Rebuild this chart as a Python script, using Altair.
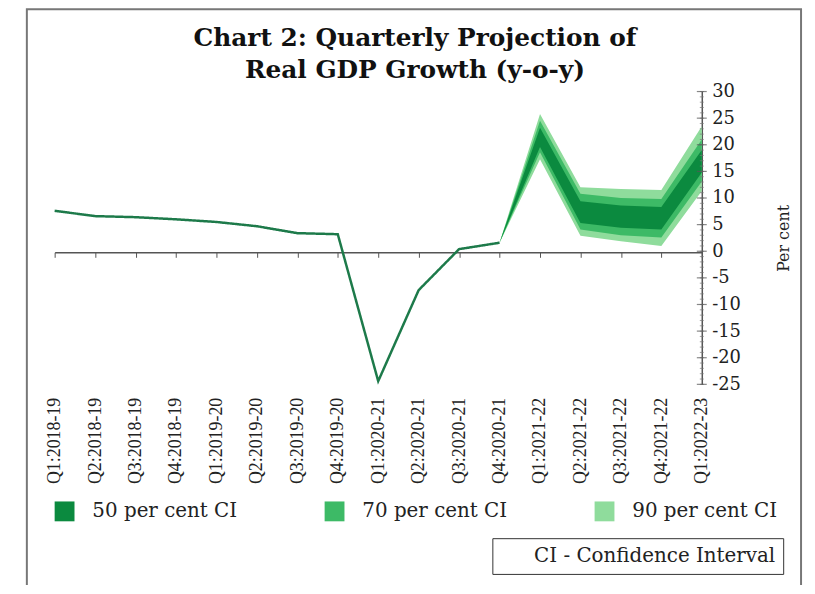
import altair as alt
import pandas as pd

# ---------------- data ----------------
quarters = [
    "Q1:2018-19", "Q2:2018-19", "Q3:2018-19", "Q4:2018-19",
    "Q1:2019-20", "Q2:2019-20", "Q3:2019-20", "Q4:2019-20",
    "Q1:2020-21", "Q2:2020-21", "Q3:2020-21", "Q4:2020-21",
    "Q1:2021-22", "Q2:2021-22", "Q3:2021-22", "Q4:2021-22",
    "Q1:2022-23",
]
actual_quarters = quarters[:12]
actual_values = [7.6, 6.6, 6.4, 6.0, 5.5, 4.7, 3.4, 3.2, -24.4, -7.3, 0.4, 1.6]

band_quarters = quarters[11:]
ci50_low = [1.6, 19.6, 5.3, 4.4, 4.1, 14.8]
ci50_high = [1.6, 23.2, 9.4, 8.6, 8.3, 19.0]
ci70_low = [1.6, 18.6, 4.1, 3.0, 2.6, 13.1]
ci70_high = [1.6, 24.5, 10.8, 10.0, 9.8, 21.0]
ci90_low = [1.6, 17.3, 2.9, 1.9, 1.0, 11.3]
ci90_high = [1.6, 25.8, 12.0, 11.7, 11.5, 23.5]

ci_labels = ["50 per cent CI", "70 per cent CI", "90 per cent CI"]
ci_colors = ["#0b8a3f", "#3dba66", "#8fdc9c"]
note_label = ["CI - Confidence Interval"]

y_major = list(range(-25, 31, 5))
y_minor = list(range(-25, 31))

# ---------------- tables ----------------
actual_df = pd.DataFrame({"quarter": actual_quarters, "value": actual_values,
                          "note": note_label * len(actual_quarters)})
rows = []
for lab, lo, hi in zip(ci_labels, [ci50_low, ci70_low, ci90_low], [ci50_high, ci70_high, ci90_high]):
    for q, l, h in zip(band_quarters, lo, hi):
        rows.append({"quarter": q, "ci": lab, "low": l, "high": h})
band_df = pd.DataFrame(rows)
major_df = pd.DataFrame({"quarter": [quarters[-1]] * len(y_major), "v": y_major})
minor_df = pd.DataFrame({"quarter": [quarters[-1]] * len(y_minor), "v": y_minor})

# ---------------- scales / axes ----------------
x_scale = alt.Scale(domain=quarters, type="point", padding=0)
x_axis = alt.Axis(orient="bottom", offset=-133, labelAngle=270, labelAlign="right",
                  labelBaseline="middle", labelPadding=141, tickSize=5,
                  domainColor="#555555", tickColor="#555555", domainWidth=1.5,
                  labelFont="Liberation Serif", labelFontSize=18, labelColor="#222222",
                  title=None, grid=False)
y_scale = alt.Scale(domain=[-25, 30], nice=False, zero=False)
y_axis = alt.Axis(orient="right", values=y_major, title="Per cent", titleAngle=270,
                  titleFont="DejaVu Serif", titleFontSize=16, titleFontWeight="normal",
                  titleColor="#222222", titleX=82, titleBaseline="middle",
                  ticks=False, tickSize=0, domainColor="#555555", domainWidth=1.5,
                  labelExpr="'' + datum.value",
                  labelFont="DejaVu Serif", labelFontSize=18, labelColor="#222222",
                  labelPadding=10, grid=False)

X = alt.X("quarter:N", scale=x_scale, axis=x_axis, sort=quarters)
color = alt.Color("ci:N", scale=alt.Scale(domain=ci_labels, range=ci_colors),
                  legend=alt.Legend(orient="none", legendX=0, legendY=413,
                                    direction="horizontal", title=None,
                                    symbolType="square", symbolSize=400,
                                    symbolStrokeWidth=0, labelFont="DejaVu Serif",
                                    labelFontSize=20, labelColor="#222222",
                                    labelOffset=18, columnPadding=88,
                                    labelLimit=400, padding=0))


def band(label):
    return (alt.Chart(band_df).transform_filter(alt.datum.ci == label)
            .mark_area(opacity=1)
            .encode(x=X, y=alt.Y("low:Q", scale=y_scale, axis=y_axis), y2="high:Q",
                    color=color))


line = alt.Chart(actual_df).mark_line(color="#1d7a4a", strokeWidth=2.5).encode(
    x=X,
    y=alt.Y("value:Q", scale=y_scale, axis=y_axis),
    strokeDash=alt.StrokeDash("note:N",
                              scale=alt.Scale(domain=note_label, range=[[1, 0]]),
                              legend=alt.Legend(orient="none", legendX=441, legendY=450,
                                                title=None, symbolSize=0, symbolOpacity=0,
                                                symbolStrokeWidth=0,
                                                labelOffset=14, strokeColor="#333333",
                                                padding=8, labelFont="DejaVu Serif",
                                                labelFontSize=20, labelColor="#222222",
                                                labelLimit=400)),
)

major = alt.Chart(major_df).mark_tick(size=10, thickness=1.2, color="#555555").encode(
    x=X, y=alt.Y("v:Q", scale=y_scale, axis=y_axis))
minor = alt.Chart(minor_df).mark_tick(size=4, thickness=1, color="#777777").encode(
    x=X, y=alt.Y("v:Q", scale=y_scale, axis=y_axis))

# decorative outer frame of the exhibit
frame = alt.Chart(pd.DataFrame({"f": [0]})).mark_rect(
    fill=None, stroke="#777777", strokeWidth=2).encode(
    x=alt.value(-28), x2=alt.value(752), y=alt.value(-83), y2=alt.value(600))

chart = (
    alt.layer(band(ci_labels[2]), band(ci_labels[1]), band(ci_labels[0]), line, minor, major, frame)
    .properties(
        width=652, height=295,
        padding={"left": 47, "top": 82, "right": 106, "bottom": 200},
        autosize=alt.AutoSizeParams(type="none"),
        title=alt.TitleParams(
            text=["Chart 2: Quarterly Projection of", "Real GDP Growth (y-o-y)"],
            font="DejaVu Serif", fontSize=25, fontWeight="bold", color="#111111",
            anchor="middle", frame="group", dx=37, lineHeight=32, offset=-75),
    )
    .configure(background="white")
    .configure_view(stroke=None)
)

chart.save("out.html", embed_options={"renderer": "svg", "actions": False})
